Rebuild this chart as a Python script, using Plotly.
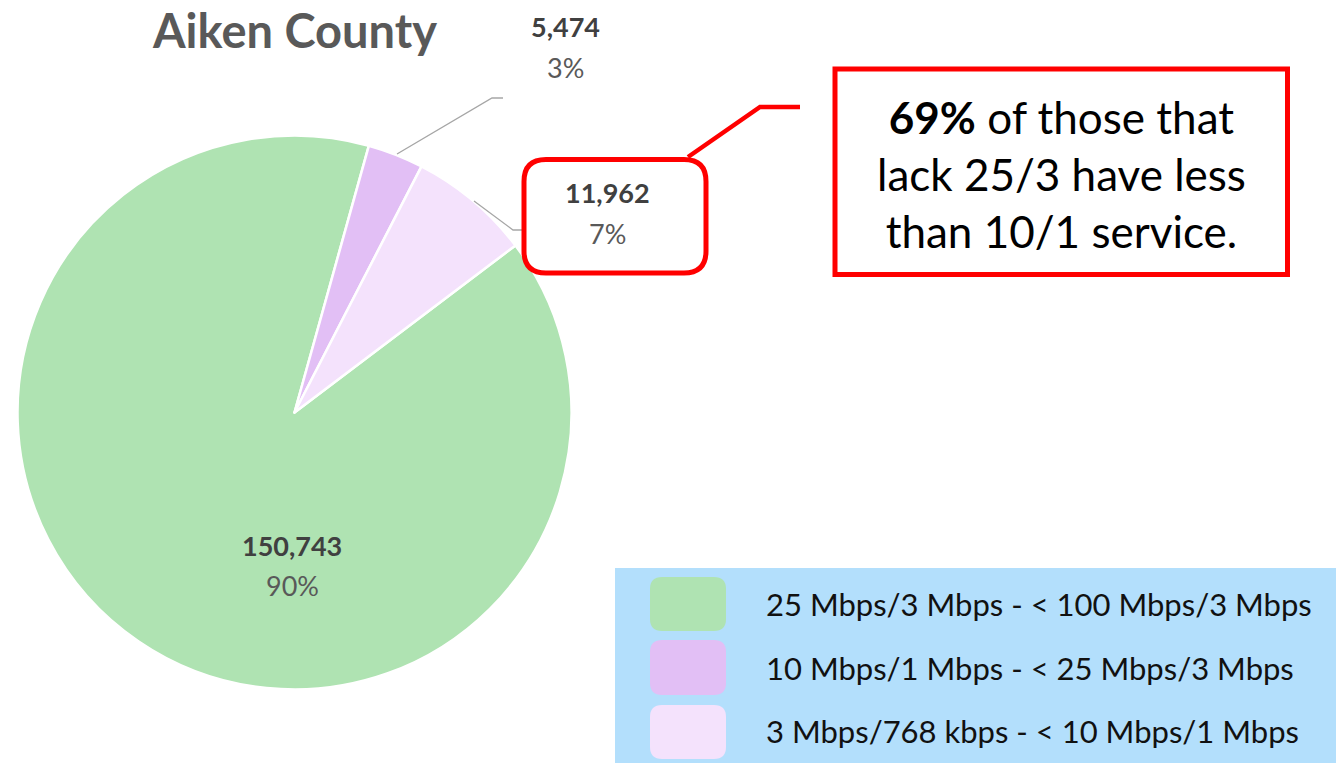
import plotly.graph_objects as go

# ---- data ----
categories = [
    "25 Mbps/3 Mbps - < 100 Mbps/3 Mbps",
    "10 Mbps/1 Mbps - < 25 Mbps/3 Mbps",
    "3 Mbps/768 kbps - < 10 Mbps/1 Mbps",
]
values = [150743, 5474, 11962]
colors = ["#afe3b2", "#e2bff5", "#f4e2fc"]
title_text = "Aiken County"
callout_text = "<b>69%</b> of those that<br>lack 25/3 have less<br>than 10/1 service."

W, H = 1343, 763
FONT = "Lato, 'Open Sans', sans-serif"


def px(x):
    return x / W


def py(y):
    return 1 - y / H


def path_from(points):
    return "M " + " L ".join(f"{px(x):.5f},{py(y):.5f}" for x, y in points)


def rrect(x0, y0, x1, y1, r):
    def p(x, y):
        return f"{px(x):.5f},{py(y):.5f}"
    return (f"M {p(x0 + r, y0)} L {p(x1 - r, y0)} Q {p(x1, y0)} {p(x1, y0 + r)} "
            f"L {p(x1, y1 - r)} Q {p(x1, y1)} {p(x1 - r, y1)} "
            f"L {p(x0 + r, y1)} Q {p(x0, y1)} {p(x0, y1 - r)} "
            f"L {p(x0, y0 + r)} Q {p(x0, y0)} {p(x0 + r, y0)} Z")


total = sum(values)
pcts = [round(v / total * 100) for v in values]

# pie geometry (pixels)
cx, cy, R = 294.5, 412.5, 277

fig = go.Figure()
fig.add_trace(go.Pie(
    labels=categories,
    values=values,
    sort=False,
    direction="clockwise",
    rotation=52.9,
    marker=dict(colors=colors, line=dict(color="white", width=2.5)),
    textinfo="none",
    hoverinfo="none",
    showlegend=False,
    domain=dict(x=[px(cx - R), px(cx + R)], y=[py(cy + R), py(cy - R)]),
))

shapes = []
annotations = []

# title
annotations.append(dict(x=px(294), y=1, xref="paper", yref="paper",
                        text=f"<b>{title_text}</b>", showarrow=False,
                        xanchor="center", yanchor="top",
                        font=dict(family=FONT, size=47, color="#595959")))

# data labels (value + percent)
label_pos = [(292, 545, 585), (565, 27, 67), (607, 193, 233)]
for (lx, vy, py_), v, p in zip(label_pos, values, pcts):
    annotations.append(dict(x=px(lx), y=py(vy), xref="paper", yref="paper",
                            text=f"<b>{v:,}</b>", showarrow=False,
                            xanchor="center", yanchor="middle",
                            font=dict(family=FONT, size=27, color="#404040")))
    annotations.append(dict(x=px(lx), y=py(py_), xref="paper", yref="paper",
                            text=f"{p}%", showarrow=False,
                            xanchor="center", yanchor="middle",
                            font=dict(family=FONT, size=27, color="#595959")))

# leader lines
shapes.append(dict(type="path", xref="paper", yref="paper",
                   path=path_from([(397, 154), (492, 98), (503, 98)]),
                   line=dict(color="#a6a6a6", width=1.3)))
shapes.append(dict(type="path", xref="paper", yref="paper",
                   path=path_from([(474, 201), (513, 230), (522, 230)]),
                   line=dict(color="#a6a6a6", width=1.3)))

# red rounded box around the 7% label
shapes.append(dict(type="path", xref="paper", yref="paper",
                   path=rrect(524, 159.5, 706, 273, 22),
                   line=dict(color="#ff0000", width=5)))
# connector
shapes.append(dict(type="path", xref="paper", yref="paper",
                   path=path_from([(800, 107), (760, 107), (688, 157)]),
                   line=dict(color="#ff0000", width=4.5)))
# callout box
shapes.append(dict(type="rect", xref="paper", yref="paper",
                   x0=px(835), x1=px(1287.5), y0=py(274.5), y1=py(69),
                   line=dict(color="#ff0000", width=5), fillcolor="white",
                   layer="below"))
annotations.append(dict(x=px(1061), y=py(174), xref="paper", yref="paper",
                        text=callout_text, showarrow=False,
                        xanchor="center", yanchor="middle", align="center",
                        font=dict(family=FONT, size=44, color="#000000")))

# custom legend
shapes.append(dict(type="rect", xref="paper", yref="paper",
                   x0=px(615), x1=px(1336), y0=py(763), y1=py(568),
                   line=dict(width=0), fillcolor="#b3dffc", layer="below"))
rows = [(577, 631, 603.5), (640, 695, 667.5), (705, 759, 731)]
for (r0, r1, tc), cat, col in zip(rows, categories, colors):
    shapes.append(dict(type="path", xref="paper", yref="paper",
                       path=rrect(650, r0, 726, r1, 12),
                       line=dict(width=0), fillcolor=col))
    annotations.append(dict(x=px(764), y=py(tc), xref="paper", yref="paper",
                            text=cat, showarrow=False,
                            xanchor="left", yanchor="middle",
                            font=dict(family=FONT, size=31, color="#111111")))

fig.update_layout(
    width=W, height=H, autosize=False,
    margin=dict(l=0, r=0, t=0, b=0),
    paper_bgcolor="white", plot_bgcolor="white",
    shapes=shapes, annotations=annotations,
    showlegend=False,
)

fig.write_html("out.html", config={"displayModeBar": False},
               post_script="document.body.style.margin='0';document.body.style.overflow='hidden';")
